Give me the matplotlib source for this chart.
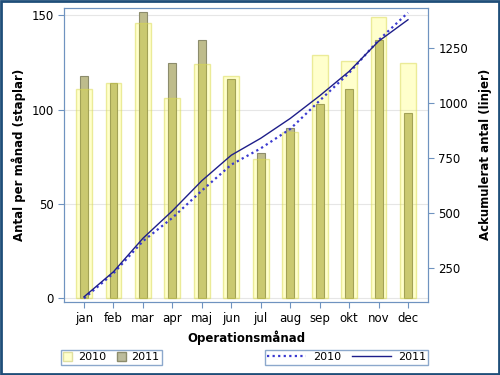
import matplotlib
matplotlib.use("Agg")
import matplotlib.pyplot as plt
import numpy as np
from matplotlib.patches import Rectangle, Patch
from matplotlib.lines import Line2D

months = ["jan", "feb", "mar", "apr", "maj", "jun", "jul", "aug", "sep", "okt", "nov", "dec"]
bars_2010 = [111, 114, 146, 106, 124, 118, 74, 88, 129, 126, 149, 125]
bars_2011 = [118, 114, 152, 125, 137, 116, 77, 90, 103, 111, 137, 98]
cum_2010 = np.cumsum(bars_2010)
cum_2011 = np.cumsum(bars_2011)

spine_col = "#6f93c0"
plt.rcParams['font.family'] = ['DejaVu Sans']

fig = plt.figure(figsize=(5, 3.75), dpi=100)
ax = fig.add_axes([0.128, 0.195, 0.728, 0.784])
x = np.arange(len(months))

ax.bar(x, bars_2011, width=0.27, color=(0.745, 0.737, 0.55), edgecolor="#8c8c6c",
       linewidth=0.8, zorder=2)
ax.bar(x, bars_2010, width=0.54, color=(1.0, 1.0, 0.0, 0.2), edgecolor=(0.85, 0.85, 0.3, 0.5),
       linewidth=1.0, zorder=3)

ax.set_xlim(-0.68, 11.68)
ax.set_ylim(-2, 154)
ax.set_yticks([0, 50, 100, 150])
ax.set_xticks(x)
ax.set_xticklabels(months)
ax.yaxis.grid(True, color="#e6e6e6", linewidth=0.8, zorder=0)
ax.set_axisbelow(True)
for s in ax.spines.values():
    s.set_color(spine_col)
ax.tick_params(colors=spine_col, labelcolor="black", labelsize=8.5, length=4, direction="out")
ax.set_ylabel("Antal per månad (staplar)", fontsize=8.5, fontweight="bold")
ax.set_xlabel("Operationsmånad", fontsize=8.5, fontweight="bold", labelpad=4)

ax2 = ax.twinx()
ax2.plot(x, cum_2010, color="#3a3ad0", linestyle=(0, (1, 1.5)), linewidth=1.6, zorder=5)
ax2.plot(x, cum_2011, color="#1e1e8a", linestyle="-", linewidth=1.0, zorder=5)
ax2.set_ylim(95, 1432)
ax2.set_yticks([250, 500, 750, 1000, 1250])
for s in ax2.spines.values():
    s.set_color(spine_col)
ax2.tick_params(colors=spine_col, labelcolor="black", labelsize=8.5, length=4, direction="out")
ax2.set_ylabel("Ackumulerat antal (linjer)", fontsize=8.5, fontweight="bold", labelpad=8)

h1 = [Patch(facecolor="#ffffcc", edgecolor="#e0e0a0", label="2010"),
      Patch(facecolor="#bcbc9c", edgecolor="#8c8c6c", label="2011")]
leg1 = fig.legend(handles=h1, loc="center left", bbox_to_anchor=(0.122, 0.047), ncol=2,
                  fontsize=8, frameon=True, fancybox=False, handlelength=0.8, handleheight=0.8,
                  borderpad=0.2, columnspacing=1.0, handletextpad=0.5, borderaxespad=0)
leg1.get_frame().set_edgecolor(spine_col)
leg1.get_frame().set_linewidth(1.0)

h2 = [Line2D([], [], color="#3a3ad0", linestyle=(0, (1, 1.5)), linewidth=1.6, label="2010"),
      Line2D([], [], color="#1e1e8a", linestyle="-", linewidth=1.0, label="2011")]
leg2 = fig.legend(handles=h2, loc="center right", bbox_to_anchor=(0.856, 0.047), ncol=2,
                  fontsize=8, frameon=True, fancybox=False, handlelength=3.5,
                  borderpad=0.2, columnspacing=1.0, handletextpad=0.6, borderaxespad=0)
leg2.get_frame().set_edgecolor(spine_col)
leg2.get_frame().set_linewidth(1.0)

fig.patches.append(Rectangle((0.002, 0.003), 0.996, 0.994, transform=fig.transFigure,
                             fill=False, edgecolor="#1f4e79", linewidth=2.0))

fig.savefig("out.png", dpi=100)
